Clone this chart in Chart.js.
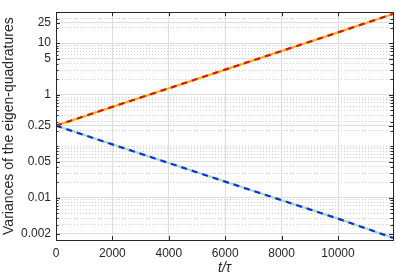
<!DOCTYPE html>
<html>
<head>
<meta charset="utf-8">
<script src="https://cdn.jsdelivr.net/npm/chart.js@4/dist/chart.umd.min.js"></script>
<style>
  html, body { margin: 0; padding: 0; background: #fff; }
  #wrap { width: 396px; height: 277px; }
</style>
</head>
<body>
<div id="wrap"><canvas id="grafico"></canvas></div>
<script>
// valores
var tiempos = [0, 2000, 4000, 6000, 8000, 10000, 11950];
var varianzaCrece = [0.25, 0.58, 1.33, 3.07, 7.05, 16.2, 37];
var varianzaDecrece = [0.25, 0.108, 0.047, 0.0204, 0.0089, 0.0039, 0.00165];
var ticksX = [0, 2000, 4000, 6000, 8000, 10000];
var ticksY = [0.002, 0.01, 0.05, 0.25, 1, 5, 10, 25];

var Y_MIN = 0.0015, Y_MAX = 40;
var colorTexto = '#262626';
var fuente = "'Liberation Sans', Arial, sans-serif";

function puntos(xs, ys) {
    return xs.map(function(x, i) { return {x: x, y: ys[i]}; });
}

function esMayor(v) {
    return ticksY.some(function(t) { return Math.abs(t - v) / t < 1e-6; });
}

//todos los valores k*10^n dentro del rango (para la rejilla menor)
function ticksLog() {
    var lista = [];
    for (var n = -3; n <= 1; n++) {
        for (var k = 1; k <= 9; k++) {
            var v = parseFloat((k * Math.pow(10, n)).toPrecision(3));
            if (v >= Y_MIN && v <= Y_MAX) lista.push(v);
        }
    }
    ticksY.forEach(function(t) { if (lista.indexOf(t) < 0) lista.push(t); });
    lista.sort(function(a, b) { return a - b; });
    return lista;
}

// marco y marcas de tick hacia dentro, estilo matlab
var marco = {
    id: 'marco',
    afterDraw: function(chart) {
        var ctx = chart.ctx, a = chart.chartArea;
        var sx = chart.scales.x, sy = chart.scales.y;
        ctx.save();
        ctx.strokeStyle = colorTexto;
        ctx.lineWidth = 1;
        ctx.beginPath();
        ticksX.forEach(function(t) {
            var px = Math.round(sx.getPixelForValue(t)) + 0.5;
            ctx.moveTo(px, a.bottom); ctx.lineTo(px, a.bottom - 4);
            ctx.moveTo(px, a.top); ctx.lineTo(px, a.top + 4);
        });
        ticksLog().forEach(function(v) {
            var py = Math.round(sy.getPixelForValue(v)) + 0.5;
            var largo = esMayor(v) ? 4 : 2.5;
            ctx.moveTo(a.left, py); ctx.lineTo(a.left + largo, py);
            ctx.moveTo(a.right, py); ctx.lineTo(a.right - largo, py);
        });
        ctx.stroke();
        ctx.strokeRect(Math.round(a.left) + 0.5, Math.round(a.top) + 0.5,
            Math.round(a.right - a.left), Math.round(a.bottom - a.top));
        ctx.restore();
    }
};

var context = document.getElementById('grafico');
var grafico = new Chart(context, {
    type: 'line',
    data: {
        datasets: [
            {
                label: 'crece',
                data: puntos(tiempos, varianzaCrece),
                borderColor: '#FFB400',
                borderWidth: 2.2,
                pointRadius: 0,
                order: 4
            },
            {
                label: 'crece (analitico)',
                data: puntos(tiempos, varianzaCrece),
                borderColor: '#D81414',
                borderWidth: 2.2,
                borderDash: [6, 5],
                pointRadius: 0,
                order: 3
            },
            {
                label: 'decrece',
                data: puntos(tiempos, varianzaDecrece),
                borderColor: '#A2E2BE',
                borderWidth: 2.2,
                pointRadius: 0,
                order: 2
            },
            {
                label: 'decrece (analitico)',
                data: puntos(tiempos, varianzaDecrece),
                borderColor: '#1030E6',
                borderWidth: 2.2,
                borderDash: [6, 5],
                pointRadius: 0,
                order: 1
            }
        ]
    },
    options: {
        responsive: true,
        maintainAspectRatio: false,
        animation: false,
        events: [],
        layout: { padding: { top: 4, right: 3, left: 0, bottom: 0 } },
        plugins: {
            legend: { display: false },
            tooltip: { enabled: false }
        },
        scales: {
            x: {
                type: 'linear',
                min: 0,
                max: 11950,
                afterBuildTicks: function(scale) {
                    scale.ticks = ticksX.map(function(v) { return {value: v}; });
                },
                afterFit: function(scale) { scale.height = 37; },
                grid: { color: '#dedede', lineWidth: 1, drawTicks: false },
                border: { display: false },
                ticks: {
                    padding: 6,
                    color: colorTexto,
                    autoSkip: false,
                    maxRotation: 0,
                    font: { family: fuente, size: 12 },
                    callback: function(v) { return String(v); }
                },
                title: {
                    display: true,
                    text: 't/τ',
                    color: colorTexto,
                    padding: { top: 0, bottom: 0 },
                    font: { family: fuente, size: 14, style: 'italic' }
                }
            },
            y: {
                type: 'logarithmic',
                min: Y_MIN,
                max: Y_MAX,
                afterBuildTicks: function(scale) {
                    scale.ticks = ticksLog().map(function(v) { return {value: v, major: esMayor(v)}; });
                },
                afterFit: function(scale) { scale.width = 56; },
                grid: {
                    drawTicks: false,
                    lineWidth: 1,
                    color: function(c) {
                        if (!c.tick) return '#dedede';
                        return esMayor(c.tick.value) ? '#dedede' : '#cfcfcf';
                    }
                },
                border: {
                    display: false,
                    dash: function(c) {
                        if (!c.tick) return [];
                        return esMayor(c.tick.value) ? [] : [1, 2];
                    }
                },
                ticks: {
                    padding: 5,
                    color: colorTexto,
                    autoSkip: false,
                    font: { family: fuente, size: 12 },
                    callback: function(v) { return esMayor(v) ? String(v) : ''; }
                },
                title: {
                    display: true,
                    text: 'Variances of the eigen-quadratures',
                    color: colorTexto,
                    padding: { top: 1, bottom: 0 },
                    font: { family: fuente, size: 14 }
                }
            }
        }
    },
    plugins: [marco]
});
</script>
</body>
</html>
